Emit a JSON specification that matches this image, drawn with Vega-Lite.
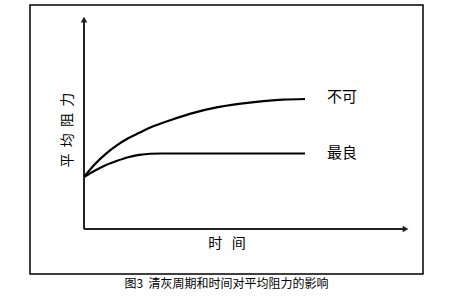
{
  "$schema": "https://vega.github.io/schema/vega-lite/v6.json",
  "width": 393,
  "height": 269,
  "autosize": {"type": "none"},
  "padding": {"left": 30, "top": 5, "right": 37, "bottom": 24},
  "background": "white",
  "config": {"view": {"stroke": "black", "strokeWidth": 1.5}, "font": "Noto Sans CJK SC"},
  "title": {"text": "图3\u00a0\u00a0清灰周期和时间对平均阻力的影响", "orient": "bottom", "anchor": "middle", "fontSize": 12, "fontWeight": "normal", "offset": 5, "font": "Noto Sans CJK SC", "color": "black"},
  "datasets": {
    "curves": [
      {"series": "不可", "t": 0, "r": 4.0},
      {"series": "不可", "t": 0.5, "r": 5.0},
      {"series": "不可", "t": 1, "r": 5.8},
      {"series": "不可", "t": 1.5, "r": 6.45},
      {"series": "不可", "t": 2, "r": 6.98},
      {"series": "不可", "t": 2.5, "r": 7.4},
      {"series": "不可", "t": 3, "r": 7.8},
      {"series": "不可", "t": 4, "r": 8.42},
      {"series": "不可", "t": 5, "r": 8.95},
      {"series": "不可", "t": 6, "r": 9.35},
      {"series": "不可", "t": 7, "r": 9.62},
      {"series": "不可", "t": 8, "r": 9.82},
      {"series": "不可", "t": 9, "r": 9.95},
      {"series": "不可", "t": 10, "r": 10.0},
      {"series": "最良", "t": 0, "r": 4.0},
      {"series": "最良", "t": 0.5, "r": 4.5},
      {"series": "最良", "t": 1, "r": 4.93},
      {"series": "最良", "t": 1.5, "r": 5.25},
      {"series": "最良", "t": 2, "r": 5.52},
      {"series": "最良", "t": 2.5, "r": 5.7},
      {"series": "最良", "t": 3, "r": 5.79},
      {"series": "最良", "t": 3.5, "r": 5.81},
      {"series": "最良", "t": 10, "r": 5.81}
    ],
    "labels": [
      {"label": "不可", "t": 11.67, "r": 10.15},
      {"label": "最良", "t": 11.67, "r": 5.85}
    ],
    "axes": [
      {"name": "y", "t": 0, "r": 0, "t2": 0, "r2": 16.2},
      {"name": "x", "t": 0, "r": 0, "t2": 14.5, "r2": 0}
    ],
    "arrows": [
      {"name": "y", "t": 0, "r": 16.1, "shape": "triangle-up"},
      {"name": "x", "t": 14.55, "r": 0, "shape": "triangle-right"}
    ],
    "titles": [
      {"text": "平\u00a0\u00a0均\u00a0\u00a0阻\u00a0\u00a0力", "t": -0.72, "r": 7.6, "angle": 270},
      {"text": "时\u00a0\u00a0\u00a0间", "t": 6.47, "r": -1.15, "angle": 0}
    ]
  },
  "layer": [
    {
      "data": {"name": "axes"},
      "mark": {"type": "rule", "color": "#222", "strokeWidth": 2},
      "encoding": {
        "x": {"field": "t", "type": "quantitative", "scale": {"domain": [-2.443, 15.34], "nice": false, "zero": false}, "axis": null},
        "y": {"field": "r", "type": "quantitative", "scale": {"domain": [-3.46, 17.23], "nice": false, "zero": false}, "axis": null},
        "x2": {"field": "t2"},
        "y2": {"field": "r2"}
      }
    },
    {
      "data": {"name": "arrows"},
      "mark": {"type": "point", "filled": true, "color": "#222", "opacity": 1, "size": 45},
      "encoding": {
        "x": {"field": "t", "type": "quantitative"},
        "y": {"field": "r", "type": "quantitative"},
        "shape": {"field": "shape", "type": "nominal", "scale": null}
      }
    },
    {
      "data": {"name": "curves"},
      "mark": {"type": "line", "color": "black", "strokeWidth": 2.2, "interpolate": "monotone"},
      "encoding": {
        "x": {"field": "t", "type": "quantitative"},
        "y": {"field": "r", "type": "quantitative"},
        "detail": {"field": "series"}
      }
    },
    {
      "data": {"name": "labels"},
      "mark": {"type": "text", "fontSize": 15, "color": "black", "align": "center", "baseline": "middle", "font": "Noto Sans CJK SC"},
      "encoding": {
        "x": {"field": "t", "type": "quantitative"},
        "y": {"field": "r", "type": "quantitative"},
        "text": {"field": "label"}
      }
    },
    {
      "data": {"name": "titles"},
      "mark": {"type": "text", "fontSize": 14, "color": "black", "align": "center", "baseline": "middle", "font": "Noto Sans CJK SC"},
      "encoding": {
        "x": {"field": "t", "type": "quantitative"},
        "y": {"field": "r", "type": "quantitative"},
        "text": {"field": "text"},
        "angle": {"field": "angle", "type": "quantitative", "scale": null}
      }
    }
  ]
}
